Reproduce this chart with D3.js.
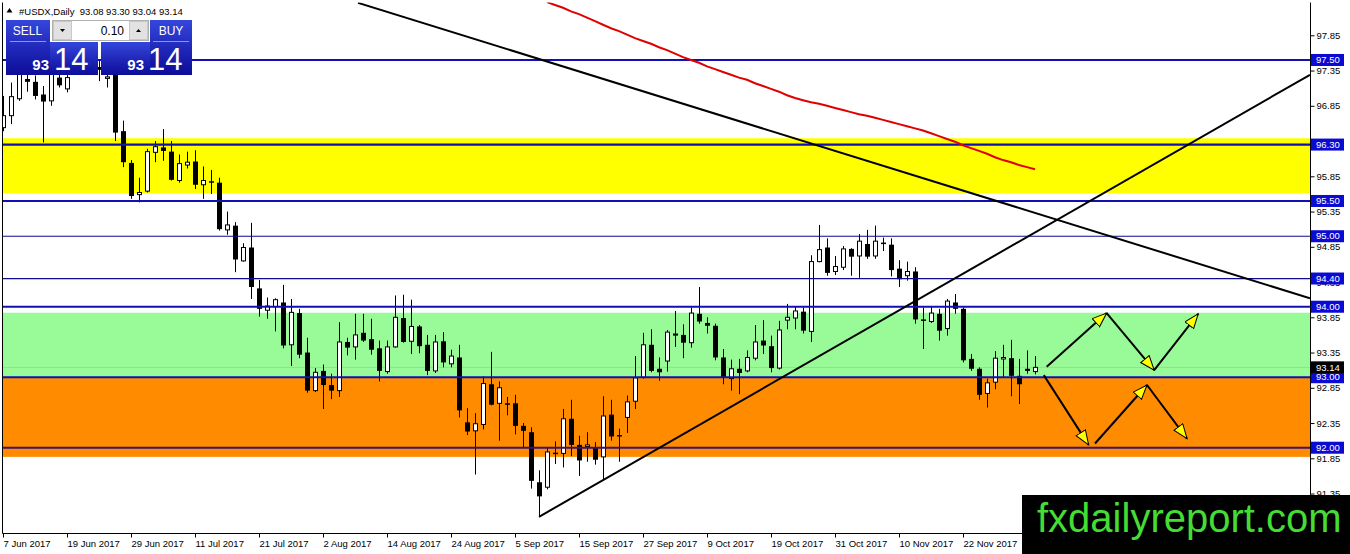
<!DOCTYPE html>
<html><head><meta charset="utf-8">
<script src="https://cdn.jsdelivr.net/npm/d3@7"></script>
<style>body{margin:0;background:#fff;overflow:hidden}svg{display:block}</style>
</head><body>
<svg id="c" width="1350" height="554"></svg>
<script>
// ---- data ----
const symbol = "#USDX,Daily";
const open  = [96.54,96.71,96.95,97.23,97.19,97.01,96.92,97.25,97.09,97.35,97.52,97.48,97.40,97.24,97.30,96.49,96.04,95.59,95.64,96.19,96.26,96.20,95.79,96.01,96.06,95.73,95.78,95.76,95.09,95.15,94.65,94.84,94.26,93.95,94.00,94.06,93.46,93.91,93.35,92.81,93.09,92.89,92.81,93.50,93.43,93.63,93.54,93.41,93.08,93.43,93.84,93.51,93.72,93.46,93.09,93.51,93.19,93.28,92.36,92.24,92.33,92.90,92.63,92.63,92.63,92.31,92.22,91.51,91.44,91.93,91.92,92.41,92.04,92.03,92.01,91.87,92.47,92.18,92.43,92.66,93.00,93.46,93.12,93.23,93.62,93.60,93.49,93.90,93.77,93.73,93.28,92.98,93.12,93.09,93.27,93.52,93.44,93.13,93.81,93.84,93.93,93.65,94.64,94.84,94.50,94.56,94.82,94.72,94.89,94.72,94.91,94.88,94.54,94.44,94.50,93.82,93.79,93.90,93.69,94.06,93.97,93.26,93.12,92.77,92.93,93.26,93.27,93.02,93.12,93.08];
const high  = [96.99,97.18,97.51,97.31,97.28,97.13,97.42,97.32,97.35,97.60,97.75,97.62,97.50,97.32,97.38,96.64,96.08,95.83,96.24,96.35,96.52,96.35,96.16,96.20,96.22,95.99,95.94,95.83,95.35,95.20,94.90,95.19,94.38,94.13,94.12,94.31,94.11,93.97,93.56,93.13,93.18,93.05,93.78,93.56,93.90,93.90,93.83,93.52,93.52,94.16,94.17,94.10,93.74,93.60,93.60,93.64,93.39,93.46,92.56,92.49,93.01,93.36,92.94,92.72,92.75,92.35,92.29,91.68,92.00,92.09,92.55,92.68,92.17,92.22,92.08,92.73,92.68,92.27,92.74,93.30,93.63,93.68,93.28,93.67,93.94,93.75,93.99,94.28,93.85,93.76,93.40,93.25,93.26,93.38,93.74,93.81,93.59,93.80,94.04,94.00,93.99,94.73,95.16,94.97,94.72,94.86,94.83,95.03,95.09,95.15,94.98,94.97,94.66,94.64,94.56,93.99,94.01,93.97,94.11,94.18,93.99,93.33,93.14,92.98,93.37,93.46,93.53,93.26,93.38,93.30];
const low   = [96.49,96.59,96.92,97.05,96.94,96.33,96.85,97.11,97.04,97.32,97.40,97.36,97.20,97.11,96.35,95.98,95.53,95.48,95.62,96.05,96.07,95.79,95.76,95.96,95.67,95.53,95.60,95.08,95.02,94.49,94.64,94.11,93.86,93.83,93.65,93.41,93.16,93.27,92.78,92.79,92.55,92.69,92.72,93.31,93.25,93.50,93.32,92.94,93.05,93.42,93.49,93.33,93.34,93.03,93.06,93.14,93.14,92.43,92.18,91.62,92.26,92.60,92.10,92.46,92.19,92.00,91.42,91.02,91.41,91.77,91.72,91.88,91.60,91.80,91.76,91.55,92.10,91.80,92.21,92.55,92.98,93.07,92.95,93.08,93.43,93.27,93.42,93.76,93.62,93.24,92.90,92.81,92.76,93.07,93.24,93.33,93.07,93.11,93.68,93.68,93.62,93.50,94.63,94.44,94.45,94.52,94.44,94.41,94.68,94.68,94.79,94.43,94.28,94.37,93.76,93.40,93.77,93.52,93.59,93.90,93.21,93.09,92.68,92.57,92.83,93.00,92.73,92.62,93.05,93.04];
const close = [96.71,96.98,97.37,97.19,96.99,96.91,97.34,97.14,97.25,97.52,97.48,97.40,97.36,97.26,96.47,96.05,95.57,95.62,96.20,96.27,96.21,95.80,96.03,96.05,95.73,95.79,95.77,95.10,95.16,94.67,94.84,94.28,93.97,94.01,94.10,93.45,93.92,93.32,92.81,93.07,92.89,92.81,93.50,93.42,93.60,93.52,93.39,93.09,93.43,93.85,93.50,93.72,93.44,93.09,93.50,93.21,93.30,92.53,92.23,92.34,92.91,92.61,92.85,92.62,92.31,92.24,91.53,91.31,91.94,91.92,92.41,92.04,91.82,92.04,91.83,92.45,92.16,92.16,92.65,92.99,93.46,93.09,93.07,93.64,93.59,93.49,93.91,93.79,93.73,93.28,92.99,93.12,93.06,93.28,93.50,93.45,93.13,93.67,93.85,93.94,93.66,94.64,94.81,94.48,94.57,94.82,94.71,94.93,94.71,94.93,94.89,94.52,94.39,94.50,93.82,93.81,93.91,93.66,94.08,93.97,93.24,93.12,92.75,92.92,93.27,93.28,93.02,92.90,93.09,93.14];
// 200-period moving average (red), starting at bar maStart
const maStart = 68;
const ma200 = [98.32,98.28,98.24,98.19,98.15,98.10,98.05,98.00,97.95,97.91,97.86,97.81,97.77,97.73,97.68,97.64,97.59,97.54,97.50,97.46,97.41,97.37,97.33,97.29,97.25,97.22,97.17,97.13,97.09,97.05,97.00,96.96,96.93,96.90,96.88,96.85,96.82,96.79,96.76,96.73,96.71,96.68,96.65,96.62,96.59,96.56,96.53,96.50,96.46,96.42,96.38,96.34,96.29,96.25,96.21,96.17,96.12,96.08,96.05,96.01,95.98,95.95];
const tickBars   = [0,8,16,24,32,40,48,56,64,72,80,88,96,104,112,120];
const tickLabels = ["7 Jun 2017","19 Jun 2017","29 Jun 2017","11 Jul 2017","21 Jul 2017","2 Aug 2017","14 Aug 2017","24 Aug 2017","5 Sep 2017","15 Sep 2017","27 Sep 2017","9 Oct 2017","19 Oct 2017","31 Oct 2017","10 Nov 2017","22 Nov 2017"];
const priceTicks = [91.35,91.85,92.35,92.85,93.35,93.85,94.35,94.85,95.35,95.85,96.35,96.85,97.35,97.85];
const levels     = [97.50,96.30,95.50,95.00,94.40,94.00,93.00,92.00];
const thinLevels = [95.00,94.40];
const zoneTop    = [96.39,93.915,93.00];
const zoneBottom = [95.61,93.00,91.87];
const bid = 93.14;
const lotSize = "0.10";
// trend lines: [bar index, price]
const trendDown = [[44.375,98.31],[163.375,94.12]];
const trendUp   = [[67,91.02],[163.375,97.29]];
// scenario arrows: segments of [bar index, price]
const arrowSegs = [
  [[130.46,93.15],[137.96,93.91]],
  [[137.96,93.91],[143.90,93.10]],
  [[143.90,93.10],[149.40,93.90]],
  [[130.10,93.03],[135.70,92.04]],
  [[136.50,92.06],[143.00,92.89]],
  [[143.00,92.89],[148.00,92.13]]
];
const watermark = "fxdailyreport.com";

// ---- drawing ----
const svg = d3.select("#c");
const L = 2.5, R = 1310.5, T = 2.5, B = 533.5;
const FONT = "'Liberation Sans', Arial, sans-serif";
const n = close.length;
const x = d3.scaleLinear().domain([0, n - 1]).range([3, 3 + 8 * (n - 1)]);
const y = d3.scaleLinear().domain([91.85, 97.85]).range([458.3, 35.3]);

svg.append("rect").attr("width",1350).attr("height",554).attr("fill","#fff");
const defs = svg.append("defs");
defs.append("clipPath").attr("id","clip").append("rect")
  .attr("x",L+0.5).attr("y",T).attr("width",R-L-1).attr("height",B-T-0.5);
const gr = defs.append("linearGradient").attr("id","btn").attr("x1",0).attr("y1",0).attr("x2",0).attr("y2",1);
gr.append("stop").attr("offset","0%").attr("stop-color","#3546dc");
gr.append("stop").attr("offset","100%").attr("stop-color","#0c0c98");
defs.append("marker").attr("id","ah").attr("markerUnits","userSpaceOnUse")
  .attr("markerWidth",18).attr("markerHeight",14).attr("refX",15).attr("refY",6)
  .attr("orient","auto").attr("viewBox","0 0 18 14")
  .append("path").attr("d","M0.5,0.5 L15,6 L0.5,11.5 Z")
  .attr("fill","#ffff00").attr("stroke","#000").attr("stroke-width",1);

const g = svg.append("g").attr("clip-path","url(#clip)");
const zoneColors = ["#ffff00","#98fb98","#ff8c00"];
g.selectAll("rect.zone").data(zoneTop).join("rect").attr("class","zone")
  .attr("x",L).attr("width",R-L)
  .attr("y",d=>y(d)).attr("height",(d,i)=>y(zoneBottom[i])-y(d))
  .attr("fill",(d,i)=>zoneColors[i]);

g.append("line").attr("x1",L).attr("x2",R).attr("y1",Math.round(y(bid))+0.5).attr("y2",Math.round(y(bid))+0.5)
  .attr("stroke","#c0c0c0").attr("stroke-width",1);

const idx = d3.range(n);
g.selectAll("line.wick").data(idx).join("line").attr("class","wick")
  .attr("x1",i=>x(i)+0.5).attr("x2",i=>x(i)+0.5)
  .attr("y1",i=>y(high[i])).attr("y2",i=>y(low[i]))
  .attr("stroke","#000").attr("stroke-width",1);
g.selectAll("rect.body").data(idx).join("rect").attr("class","body")
  .each(function(i){
    const bull = close[i] >= open[i];
    const top = y(Math.max(open[i],close[i])), bot = y(Math.min(open[i],close[i]));
    const h = Math.max(bot-top, 1.5);
    const s = d3.select(this);
    if (bull) s.attr("x",x(i)-1.5).attr("width",4).attr("y",top).attr("height",h)
               .attr("fill","#fff").attr("stroke","#000").attr("stroke-width",1);
    else s.attr("x",x(i)-2).attr("width",5).attr("y",top).attr("height",h).attr("fill","#000");
  });

g.selectAll("line.level").data(levels).join("line").attr("class","level")
  .attr("x1",L).attr("x2",R).attr("y1",d=>y(d)).attr("y2",d=>y(d))
  .attr("stroke",d=>d===92.00?"#3a1272":(thinLevels.includes(d)?"#0c0c90":"#1010b4"))
  .attr("stroke-width",d=>thinLevels.includes(d)?1.2:2.2);

const line = d3.line().x(d=>x(d[0])).y(d=>y(d[1]));
g.append("path").datum(ma200.map((v,k)=>[maStart+k,v])).attr("d",line)
  .attr("fill","none").attr("stroke","#e00000").attr("stroke-width",2);
[trendDown,trendUp].forEach(t=>{
  g.append("path").datum(t).attr("d",line).attr("fill","none").attr("stroke","#000").attr("stroke-width",2);
});
g.selectAll("path.arrow").data(arrowSegs).join("path").attr("class","arrow")
  .attr("d",line).attr("fill","none").attr("stroke","#000").attr("stroke-width",2)
  .attr("marker-end","url(#ah)");

// frame
svg.append("path").attr("d",`M${L},${T} V${B} H${R} V${T}`).attr("fill","none").attr("stroke","#000").attr("stroke-width",1);

// right price axis
const ay = svg.append("g").attr("transform",`translate(${R},0)`)
  .call(d3.axisRight(y).tickValues(priceTicks).tickSize(4).tickPadding(2).tickFormat(d3.format(".2f")));
ay.select(".domain").remove();
ay.selectAll("text").attr("font-family",FONT).attr("font-size","9.5px").attr("fill","#000");
ay.selectAll("line").attr("stroke","#000");

// bottom time axis
const ax = svg.append("g").attr("transform",`translate(0,${B})`)
  .call(d3.axisBottom(x).tickValues(tickBars).tickSize(4).tickPadding(3).tickFormat((d,i)=>tickLabels[i]));
ax.select(".domain").remove();
ax.selectAll("text").attr("font-family",FONT).attr("font-size","9.5px").attr("fill","#000")
  .attr("text-anchor","start").attr("x",0);
ax.selectAll("line").attr("stroke","#000");

// price boxes
const boxes = svg.append("g");
levels.forEach(p=>{
  boxes.append("rect").attr("x",R+0.5).attr("y",y(p)-6).attr("width",33).attr("height",12).attr("fill","#0a0ad2");
  boxes.append("text").attr("x",R+5.5).attr("y",y(p)).attr("dy","0.34em").text(p.toFixed(2))
    .attr("font-family",FONT).attr("font-size","9.5px").attr("fill","#fff");
});
boxes.append("rect").attr("x",R+0.5).attr("y",y(bid)-6).attr("width",33).attr("height",12).attr("fill","#000");
boxes.append("text").attr("x",R+5.5).attr("y",y(bid)).attr("dy","0.34em").text(bid.toFixed(2))
  .attr("font-family",FONT).attr("font-size","9.5px").attr("fill","#fff");

// header
const last = n-1;
svg.append("path").attr("d","M6.5,12.5 L12.5,12.5 L9.5,8 Z").attr("fill","#000");
svg.append("text").attr("x",19).attr("y",15).attr("xml:space","preserve")
  .text(`${symbol}  ${open[last].toFixed(2)} ${high[last].toFixed(2)} ${low[last].toFixed(2)} ${close[last].toFixed(2)}`)
  .attr("font-family",FONT).attr("font-size","9.5px").attr("fill","#000");

// one-click trading widget
const w = svg.append("g");
const big = Math.floor(bid).toString(), small = bid.toFixed(2).split(".")[1];
w.append("rect").attr("x",6).attr("y",20).attr("width",44).attr("height",55).attr("fill","url(#btn)");
w.append("rect").attr("x",50).attr("y",42).attr("width",48).attr("height",33).attr("fill","url(#btn)");
w.append("rect").attr("x",101).attr("y",42).attr("width",49).attr("height",33).attr("fill","url(#btn)");
w.append("rect").attr("x",150).attr("y",20).attr("width",42).attr("height",55).attr("fill","url(#btn)");
w.append("line").attr("x1",10).attr("x2",46).attr("y1",41.5).attr("y2",41.5).attr("stroke","#8a97ee");
w.append("line").attr("x1",153).attr("x2",189).attr("y1",41.5).attr("y2",41.5).attr("stroke","#8a97ee");
w.append("text").attr("x",27.5).attr("y",35).attr("text-anchor","middle").text("SELL")
  .attr("font-family",FONT).attr("font-size","12px").attr("fill","#fff");
w.append("text").attr("x",171).attr("y",35).attr("text-anchor","middle").text("BUY")
  .attr("font-family",FONT).attr("font-size","12px").attr("fill","#fff");
w.append("rect").attr("x",52.5).attr("y",20.5).attr("width",96).attr("height",20).attr("fill","#fff").attr("stroke","#b0b0b0");
w.append("rect").attr("x",53.5).attr("y",21.5).attr("width",18).attr("height",18).attr("fill","#e2e2e2").attr("stroke","#c8c8c8");
w.append("rect").attr("x",129.5).attr("y",21.5).attr("width",18).attr("height",18).attr("fill","#e2e2e2").attr("stroke","#c8c8c8");
w.append("path").attr("d","M60,29 L65,29 L62.5,32 Z").attr("fill","#000");
w.append("path").attr("d","M136,32 L141,32 L138.5,29 Z").attr("fill","#000");
w.append("text").attr("x",124).attr("y",35).attr("text-anchor","end").text(lotSize)
  .attr("font-family",FONT).attr("font-size","12px").attr("fill","#000");
[[49,54],[144,148]].forEach(([a,b])=>{
  w.append("text").attr("x",a).attr("y",70).attr("text-anchor","end").text(big)
    .attr("font-family",FONT).attr("font-size","15px").attr("font-weight","bold").attr("fill","#fff");
  w.append("text").attr("x",b).attr("y",70).text(small)
    .attr("font-family",FONT).attr("font-size","31px").attr("fill","#fff");
});

// watermark
svg.append("rect").attr("x",1022).attr("y",495).attr("width",328).attr("height",59).attr("fill","#000");
svg.append("text").attr("x",1037).attr("y",532).text(watermark)
  .attr("font-family",FONT).attr("font-size","40px").attr("fill","#44dd33");
</script>
</body></html>
